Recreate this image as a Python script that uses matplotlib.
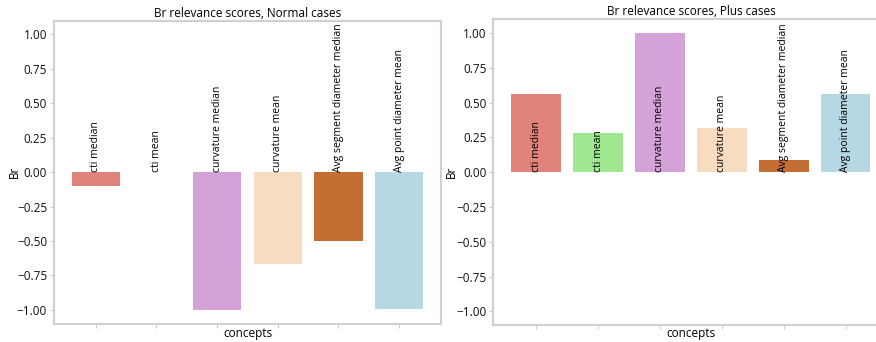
import matplotlib
matplotlib.use("Agg")
import matplotlib.pyplot as plt

plt.rcParams['font.family'] = ['Open Sans', 'DejaVu Sans']

concepts = ["cti median", "cti mean", "curvature median", "curvature mean",
            "Avg segment diameter median", "Avg point diameter mean"]
normal_scores = [-0.10, 0.0, -1.00, -0.67, -0.50, -0.99]
plus_scores = [0.56, 0.28, 1.00, 0.32, 0.09, 0.56]
colors = ["#e2837b", "#a0e890", "#d4a2d8", "#f8dcc0", "#c46e34", "#b5d8e4"]
yticks = [-1.0, -0.75, -0.5, -0.25, 0.0, 0.25, 0.5, 0.75, 1.0]

fig = plt.figure(figsize=(8.76, 3.42), dpi=100)
ax_left = fig.add_axes([0.0616, 0.0535, 0.4418, 0.886])
ax_right = fig.add_axes([0.5632, 0.0488, 0.451, 0.8956])

panels = [(ax_left, normal_scores, "Br relevance scores, Normal cases"),
          (ax_right, plus_scores, "Br relevance scores, Plus cases")]

for ax, scores, title in panels:
    xs = list(range(len(concepts)))
    ax.bar(xs, scores, width=0.8, color=colors)
    for x, name in zip(xs, concepts):
        ax.text(x, 0.0, name, rotation=90, ha='center', va='bottom',
                fontsize=7.5, color='black')
    ax.set_xlim(-0.69, 5.69)
    ax.set_ylim(-1.1, 1.1)
    ax.set_yticks(yticks)
    ax.set_yticklabels([f"{v:.2f}".replace('-', '\u2212') for v in yticks])
    ax.set_xticks(xs)
    ax.set_xticklabels([])
    ax.tick_params(axis='both', length=3, width=0.8, color='#cccccc',
                   labelsize=8.5, labelcolor='#111111', pad=2)
    ax.set_title(title, fontsize=8.5, pad=3)
    ax.set_xlabel("concepts", fontsize=8.5, va='center')
    ax.set_ylabel("Br", fontsize=8.5, va='center')
    for side, spine in ax.spines.items():
        spine.set_color('#d0d0d0')
        spine.set_linewidth(1.5)

ax_left.xaxis.set_label_coords(0.5, -0.031)
ax_right.xaxis.set_label_coords(0.5, -0.026)
ax_left.yaxis.set_label_coords(-0.103, 0.5)
ax_right.yaxis.set_label_coords(-0.107, 0.5)

fig.savefig("out.png", dpi=100)
